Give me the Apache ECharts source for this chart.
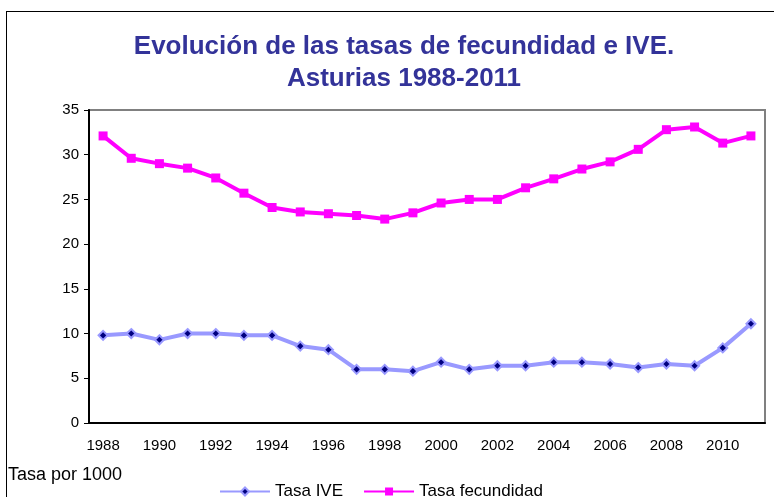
<!DOCTYPE html>
<html>
<head>
<meta charset="utf-8">
<script src="https://cdn.jsdelivr.net/npm/echarts@6/dist/echarts.min.js"></script>
<style>
  body { margin: 0; background: #fff; }
  #frame { position: absolute; left: 6px; top: 11px; width: 800px; height: 520px; border: 1px solid #000; box-sizing: border-box; }
  #main { position: absolute; left: 0; top: 0; width: 774px; height: 497px; }
</style>
</head>
<body>
<div id="frame"></div>
<div id="main"></div>
<script>
// years on the category axis
var years = ['1988', '1989', '1990', '1991', '1992', '1993', '1994', '1995', '1996', '1997', '1998', '1999',
             '2000', '2001', '2002', '2003', '2004', '2005', '2006', '2007', '2008', '2009', '2010', '2011'];

var tasaIVE = [9.8, 10.0, 9.3, 10.0, 10.0, 9.8, 9.8, 8.6, 8.2, 6.0, 6.0, 5.8,
               6.8, 6.0, 6.4, 6.4, 6.8, 6.8, 6.6, 6.2, 6.6, 6.4, 8.4, 11.1];
var tasaFecundidad = [32.1, 29.6, 29.0, 28.5, 27.4, 25.7, 24.1, 23.6, 23.4, 23.2, 22.8, 23.5,
                      24.6, 25.0, 25.0, 26.3, 27.3, 28.4, 29.2, 30.6, 32.8, 33.1, 31.3, 32.1];

var myChart = echarts.init(document.getElementById('main'));
myChart.setOption({
  animation: false,
  legend: {
    left: 214,
    top: 478,
    itemGap: 20,
    itemWidth: 50,
    itemHeight: 10,
    textStyle: { fontFamily: 'Liberation Sans', fontSize: 17, color: '#000' },
    data: ['Tasa IVE', 'Tasa fecundidad']
  },
  graphic: [
    {
      type: 'text',
      x: 404,
      y: 31,
      style: {
        text: 'Evolución de las tasas de fecundidad e IVE.\nAsturias 1988-2011',
        textAlign: 'center',
        font: 'bold 26px "Liberation Sans"',
        lineHeight: 32,
        fill: '#333399'
      }
    },
    {
      type: 'text',
      x: 8,
      y: 466,
      style: { text: 'Tasa por 1000', font: '18px "Liberation Sans"', fill: '#000' }
    }
  ],
  grid: {
    left: 89,
    top: 110,
    right: 9,
    bottom: 74,
    show: true,
    borderColor: '#808080',
    borderWidth: 2
  },
  xAxis: {
    type: 'category',
    data: years,
    boundaryGap: true,
    axisLine: { lineStyle: { color: '#000', width: 2 } },
    axisTick: { interval: 0, length: 5, lineStyle: { color: '#000' } },
    axisLabel: { interval: 1, color: '#000', fontFamily: 'Liberation Sans', fontSize: 15, margin: 15 },
    splitLine: { show: false }
  },
  yAxis: {
    type: 'value',
    min: 0,
    max: 35,
    interval: 5,
    axisLine: { show: true, lineStyle: { color: '#000', width: 2 } },
    axisTick: { show: true, length: 5, lineStyle: { color: '#000' } },
    axisLabel: { color: '#000', fontFamily: 'Liberation Sans', fontSize: 15, margin: 10 },
    splitLine: { show: false }
  },
  series: [
    {
      name: 'Tasa IVE',
      type: 'line',
      data: tasaIVE,
      symbol: 'diamond',
      symbolSize: 9,
      lineStyle: { color: '#9999FF', width: 4 },
      itemStyle: { color: '#000080', borderColor: '#9999FF', borderWidth: 2 }
    },
    {
      name: 'Tasa fecundidad',
      type: 'line',
      data: tasaFecundidad,
      symbol: 'rect',
      symbolSize: 9,
      lineStyle: { color: '#FF00FF', width: 4 },
      itemStyle: { color: '#FF00FF' }
    }
  ]
});
</script>
</body>
</html>
